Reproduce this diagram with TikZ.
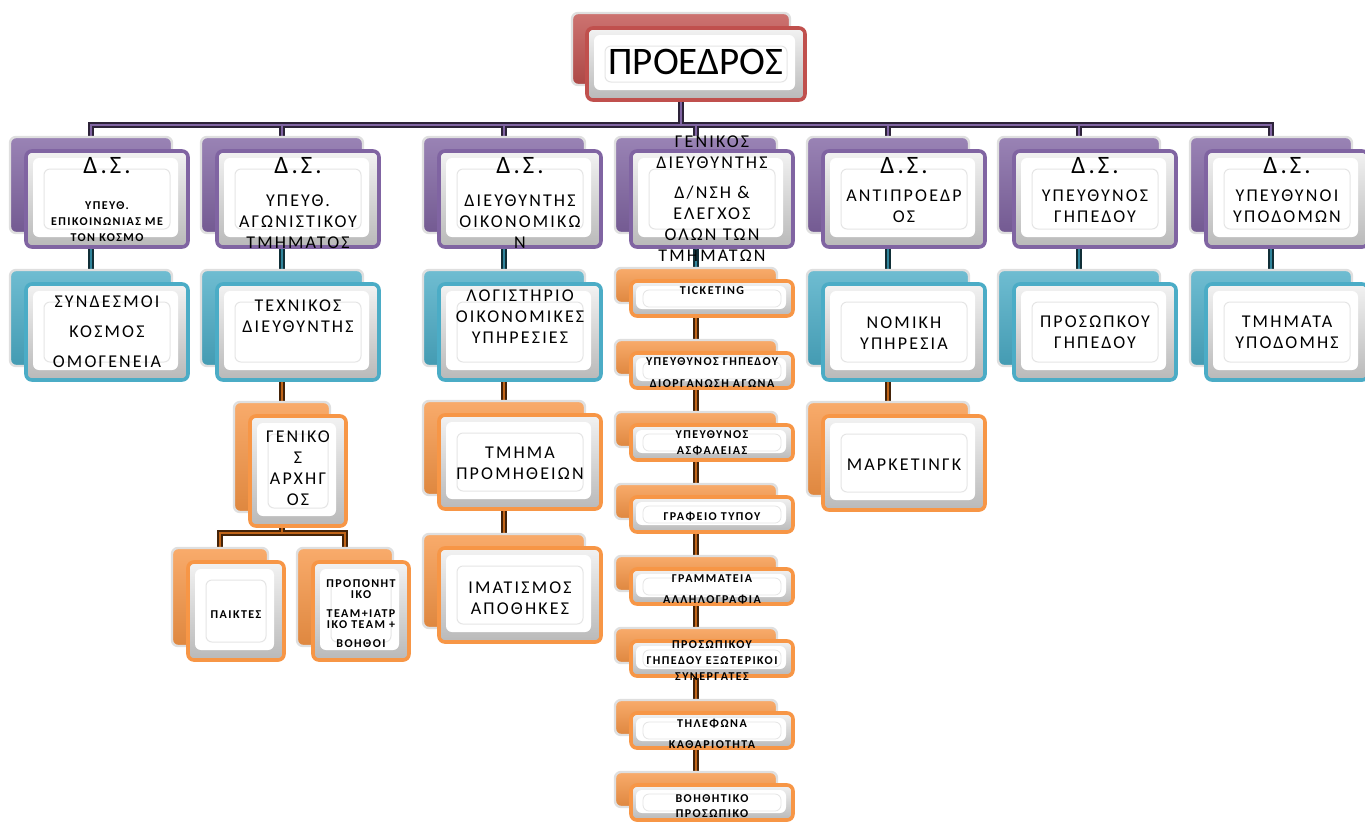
\documentclass[tikz,border=0pt]{standalone}
\usepackage{fontspec}
\setmainfont{Carlito}
\newfontfamily\boxfont{Carlito}[LetterSpace=12]
\usetikzlibrary{positioning,backgrounds}

\definecolor{orgred}{HTML}{C0504D}
\definecolor{orgpurple}{HTML}{8064A2}
\definecolor{orgblue}{HTML}{4BACC6}
\definecolor{orgorange}{HTML}{F79646}
\definecolor{tealline}{HTML}{31859C}
\definecolor{brownline}{HTML}{C0651A}

\begin{document}
\begin{tikzpicture}[x=0.5pt,y=-0.5pt,
  backbox/.style={rounded corners=3pt, draw=gray!25, line width=1.2pt,
    top color=#1!80!white, bottom color=#1!90!black, minimum width=81pt, minimum height=48pt, inner sep=0pt},
  frontbase/.style={rounded corners=3pt, draw=#1, line width=1.8pt,
    top color=gray!10, bottom color=gray!55, minimum width=81pt, minimum height=48pt, inner sep=0pt},
  frontbox/.style={frontbase=#1, path picture={
    \fill[white] ([shift={(3.5pt,-3.5pt)}]path picture bounding box.north west)
      rectangle ([shift={(-5pt,5pt)}]path picture bounding box.south east);
    \draw[gray!20, line width=0.5pt] ([shift={(9pt,-9pt)}]path picture bounding box.north west)
      rectangle ([shift={(-9pt,9pt)}]path picture bounding box.south east);}},
  frontstrip/.style={frontbase=#1, path picture={
    \fill[white] ([shift={(2.5pt,-2.5pt)}]path picture bounding box.north west)
      rectangle ([shift={(-3.5pt,3.5pt)}]path picture bounding box.south east);
    \draw[gray!20, line width=0.4pt] ([shift={(6pt,-4.5pt)}]path picture bounding box.north west)
      rectangle ([shift={(-6pt,4.5pt)}]path picture bounding box.south east);}},
  boxtext/.style={font=\boxfont\fontsize{9}{10.5}\selectfont, align=center, inner sep=0pt},
  smalltext/.style={font=\boxfont\bfseries\fontsize{6}{8}\selectfont, align=center, inner sep=0pt},
  dshead/.style={font=\boxfont\fontsize{12.5}{14}\selectfont, inner sep=0pt, anchor=north},
  conn/.style={draw=#1, line width=1.3pt, preaction={draw=#1!35!black, line width=2.6pt}}
]
\useasboundingbox (0,0) rectangle (1365,821);

% president
\node[backbox=orgred, minimum width=109pt, minimum height=36pt] (pres) at (681,49) {};
\node[frontbox=orgred, minimum width=109pt, minimum height=36pt] (presf) at ([shift={(7.5pt,-7.5pt)}]pres.center) {};
\node[font=\fontsize{19.5}{22}\selectfont, inner sep=0pt] (prest) at ([yshift=1pt]presf.center) {ΠΡΟΕΔΡΟΣ};

% board members
\foreach \i/\x in {1/91,2/282,3/504,4/696,5/888,6/1079,7/1271}{
  \node[backbox=orgpurple] (c\i) at (\x,185) {};
  \node[frontbox=orgpurple] (cf\i) at ([shift={(8pt,-7pt)}]c\i.center) {};
}
\foreach \i in {1,2,3,5,6,7}
  \node[dshead] (ch\i) at ([yshift=-4pt]cf\i.north) {Δ.Σ.};
\node[smalltext] (ct1) at ([yshift=-11.5pt]cf1.center) {ΥΠΕΥΘ.\\ΕΠΙΚΟΙΝΩΝΙΑΣ ΜΕ\\ΤΟΝ ΚΟΣΜΟ};
\node[boxtext] (ct2) at ([yshift=-11.5pt]cf2.center) {ΥΠΕΥΘ.\\ΑΓΩΝΙΣΤΙΚΟΥ\\ΤΜΗΜΑΤΟΣ};
\node[boxtext] (ct3) at ([yshift=-11.25pt]cf3.center) {ΔΙΕΥΘΥΝΤΗΣ\\ΟΙΚΟΝΟΜΙΚΩ\\Ν};
\node[boxtext] (ct4) at (cf4.center) {ΓΕΝΙΚΟΣ\\ΔΙΕΥΘΥΝΤΗΣ\\[4.5pt]Δ/ΝΣΗ \&\\ΕΛΕΓΧΟΣ\\ΟΛΩΝ ΤΩΝ\\ΤΜΗΜΑΤΩΝ};
\node[boxtext] (ct5) at ([yshift=-3.5pt]cf5.center) {ΑΝΤΙΠΡΟΕΔΡ\\ΟΣ};
\node[boxtext] (ct6) at ([yshift=-3.5pt]cf6.center) {ΥΠΕΥΘΥΝΟΣ\\ΓΗΠΕΔΟΥ};
\node[boxtext] (ct7) at ([yshift=-3.5pt]cf7.center) {ΥΠΕΥΘΥΝΟΙ\\ΥΠΟΔΟΜΩΝ};

% second level
\foreach \i/\x in {1/91,2/282,3/504,5/888,6/1079,7/1271}{
  \node[backbox=orgblue] (s\i) at (\x,318) {};
  \node[frontbox=orgblue] (sf\i) at ([shift={(8pt,-7pt)}]s\i.center) {};
}
\node[boxtext] (st1) at (sf1.center) {ΣΥΝΔΕΣΜΟΙ\\[4.5pt]ΚΟΣΜΟΣ\\[4.5pt]ΟΜΟΓΕΝΕΙΑ};
\node[boxtext] (st2) at ([yshift=7.75pt]sf2.center) {ΤΕΧΝΙΚΟΣ\\ΔΙΕΥΘΥΝΤΗΣ};
\node[boxtext] (st3) at ([yshift=7.5pt]sf3.center) {ΛΟΓΙΣΤΗΡΙΟ\\ΟΙΚΟΝΟΜΙΚΕΣ\\ΥΠΗΡΕΣΙΕΣ};
\node[boxtext] (st5) at ([yshift=-0.5pt]sf5.center) {ΝΟΜΙΚΗ\\ΥΠΗΡΕΣΙΑ};
\node[boxtext] (st6) at (sf6.center) {ΠΡΟΣΩΠΚΟΥ\\ΓΗΠΕΔΟΥ};
\node[boxtext] (st7) at (sf7.center) {ΤΜΗΜΑΤΑ\\ΥΠΟΔΟΜΗΣ};

% orange units
\node[backbox=orgorange, minimum width=48pt, minimum height=55pt] (arch) at (282,457) {};
\node[frontbox=orgorange, minimum width=48pt, minimum height=55pt] (archf) at ([shift={(8pt,-7pt)}]arch.center) {};
\node[boxtext] (archt) at ([yshift=1.25pt]archf.center) {ΓΕΝΙΚΟ\\Σ\\ΑΡΧΗΓ\\ΟΣ};
\node[backbox=orgorange, minimum width=48pt, minimum height=49pt] (paik) at (220,597) {};
\node[frontbox=orgorange, minimum width=48pt, minimum height=49pt] (paikf) at ([shift={(8pt,-7pt)}]paik.center) {};
\node[smalltext] (paikt) at ([yshift=-1.75pt]paikf.center) {ΠΑΙΚΤΕΣ};
\node[backbox=orgorange, minimum width=48pt, minimum height=49pt] (prop) at (345,597) {};
\node[frontbox=orgorange, minimum width=48pt, minimum height=49pt] (propf) at ([shift={(8pt,-7pt)}]prop.center) {};
\node[smalltext, font=\boxfont\bfseries\fontsize{6}{5.5}\selectfont] (propt) at ([yshift=-1.25pt]propf.center)
  {ΠΡΟΠΟΝΗΤ\\ΙΚΟ\\[4pt]TEAM+ΙΑΤΡ\\ΙΚΟ TEAM +\\[4pt]ΒΟΗΘΟΙ};
\node[backbox=orgorange, minimum height=47pt] (prom) at (504,448) {};
\node[frontbox=orgorange, minimum height=47pt] (promf) at ([shift={(8pt,-7pt)}]prom.center) {};
\node[boxtext] (promt) at ([yshift=-0.75pt]promf.center) {ΤΜΗΜΑ\\ΠΡΟΜΗΘΕΙΩΝ};
\node[backbox=orgorange, minimum height=47pt] (imat) at (504,581) {};
\node[frontbox=orgorange, minimum height=47pt] (imatf) at ([shift={(8pt,-7pt)}]imat.center) {};
\node[boxtext] (imatt) at ([yshift=-1.75pt]imatf.center) {ΙΜΑΤΙΣΜΟΣ\\ΑΠΟΘΗΚΕΣ};
\node[backbox=orgorange, minimum height=47pt] (mark) at (888,449) {};
\node[frontbox=orgorange, minimum height=47pt] (markf) at ([shift={(8pt,-7pt)}]mark.center) {};
\node[boxtext] (markt) at ([yshift=-0.75pt]markf.center) {ΜΑΡΚΕΤΙΝΓΚ};

% list under the general director
\foreach \i in {1,...,8}{
  \node[backbox=orgorange, minimum height=17.5pt] (t\i) at (696,{285.5+72*(\i-1)}) {};
  \node[frontstrip=orgorange, minimum height=17.5pt] (tf\i) at ([shift={(8pt,-6.5pt)}]t\i.center) {};
}
\node[smalltext] (tt1) at ([yshift=3.75pt]tf1.center) {TICKETING};
\node[smalltext] (tt2) at ([yshift=-1pt]tf2.center) {ΥΠΕΥΘΥΝΟΣ ΓΗΠΕΔΟΥ\\[3pt]ΔΙΟΡΓΑΝΩΣΗ ΑΓΩΝΑ};
\node[smalltext] (tt3) at (tf3.center) {ΥΠΕΥΘΥΝΟΣ\\ΑΣΦΑΛΕΙΑΣ};
\node[smalltext] (tt4) at ([yshift=-1pt]tf4.center) {ΓΡΑΦΕΙΟ ΤΥΠΟΥ};
\node[smalltext] (tt5) at ([yshift=-1.25pt]tf5.center) {ΓΡΑΜΜΑΤΕΙΑ\\[2.5pt]ΑΛΛΗΛΟΓΡΑΦΙΑ};
\node[smalltext] (tt6) at ([yshift=-1pt]tf6.center) {ΠΡΟΣΩΠΙΚΟΥ\\ΓΗΠΕΔΟΥ ΕΞΩΤΕΡΙΚΟΙ\\ΣΥΝΕΡΓΑΤΕΣ};
\node[smalltext] (tt7) at ([yshift=-1.75pt]tf7.center) {ΤΗΛΕΦΩΝΑ\\[2.5pt]ΚΑΘΑΡΙΟΤΗΤΑ};
\node[smalltext] (tt8) at ([yshift=-1.75pt]tf8.center) {ΒΟΗΘΗΤΙΚΟ\\[-0.5pt]ΠΡΟΣΩΠΙΚΟ};

% connectors
\coordinate (bar) at (681,125);
\coordinate (fork) at (282,533);
\begin{scope}[on background layer]
  \draw[conn=orgpurple] (c1) |- (bar) -| (c7) (pres) -- (bar)
    \foreach \i in {2,...,6}{(bar -| c\i) -- (c\i)};
  \draw[conn=tealline] \foreach \i in {1,2,3,5,6,7}{(c\i) -- (s\i)} (c4) -- (t1);
  \draw[conn=brownline] (s2) -- (arch) (s3) -- (prom) -- (imat) (s5) -- (mark) (t1) -- (t8)
    (arch) -- (fork) (paik) |- (fork) -| (prop);
\end{scope}
\end{tikzpicture}
\end{document}
